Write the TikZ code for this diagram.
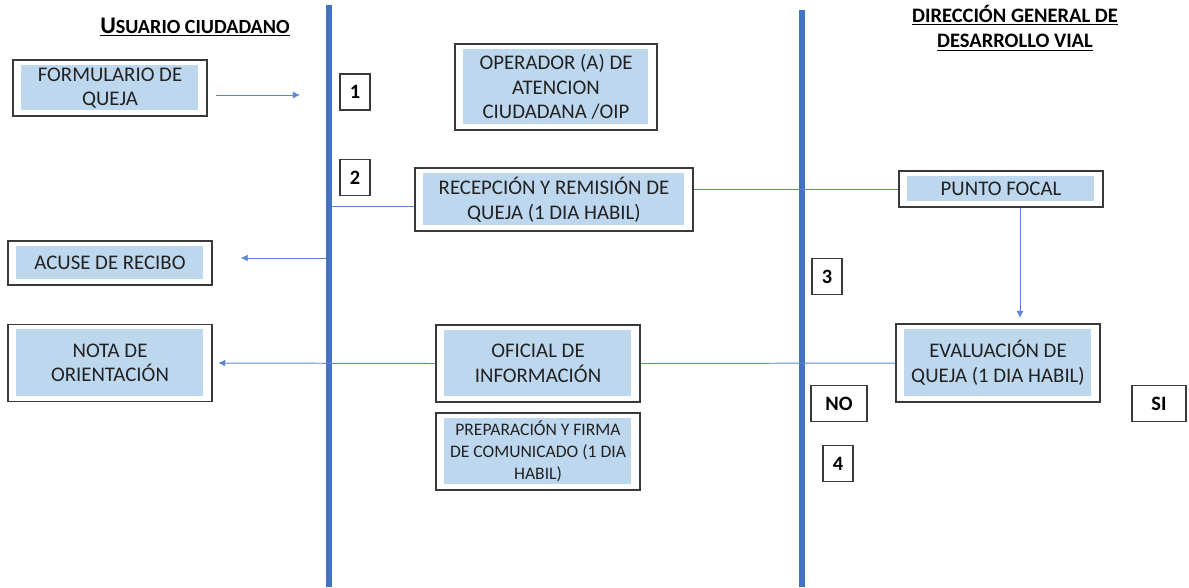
\documentclass[tikz,border=0pt]{standalone}
\usepackage{fontspec}
\setmainfont{Carlito}
\usetikzlibrary{arrows.meta}

\definecolor{laneblue}{HTML}{4472C4}
\definecolor{linkblue}{HTML}{5A87D0}
\definecolor{boxfill}{HTML}{BDD7EE}
\definecolor{boxframe}{HTML}{3A3A3A}
\definecolor{inktext}{HTML}{222222}

\tikzset{
    qbox/.style={draw=boxframe, line width=0.8pt, fill=white, inner sep=0pt, align=center, text=inktext,
        minimum width=5.1cm, minimum height=1.925cm, font=\fontsize{14.8}{17.5}\selectfont,
        path picture={\fill[boxfill] ([shift={(0.2cm,-0.12cm)}]path picture bounding box.north west)
            rectangle ([shift={(-0.22cm,0.15cm)}]path picture bounding box.south east);}},
    numbox/.style={draw=boxframe, line width=0.8pt, fill=white, inner sep=0pt,
        minimum width=0.75cm, minimum height=0.9cm, font=\fontsize{14.5}{16}\selectfont\bfseries},
    lane/.style={laneblue, line width=4.5pt},
    link/.style={linkblue, line width=0.7pt},
    arr/.style={link, -{Latex[length=5pt,width=5pt]}},
    head/.style={font=\fontsize{14.6}{18}\selectfont\bfseries, align=center},
}

\begin{document}
\begin{tikzpicture}[x=0.025cm, y=-0.025cm]
    \useasboundingbox (0,0) rectangle (1189,587);

    % carriles
    \coordinate (laneA top) at (329,5);
    \coordinate (laneA bot) at (329,587);
    \coordinate (laneB top) at (802,10);
    \coordinate (laneB bot) at (802,587);
    \draw[lane] (laneA top) -- (laneA bot);
    \draw[lane] (laneB top) -- (laneB bot);

    % encabezados
    \node[head, font=\fontsize{17}{18}\selectfont\bfseries] (hUser) at (195,27) {\underline{U{\fontsize{14.3}{18}\selectfont SUARIO CIUDADANO}}};
    \node[head] (hDir) at (1015,28) {\underline{DIRECCIÓN GENERAL DE}\\\underline{DESARROLLO VIAL}};

    % cajas
    \node[qbox, minimum width=4.85cm, minimum height=1.4cm] (form) at (110,88) {FORMULARIO DE\\QUEJA};
    \node[qbox, minimum width=5.05cm, minimum height=2.15cm] (oper) at (556,87) {OPERADOR (A) DE\\ATENCION\\CIUDADANA /OIP};
    \node[qbox, minimum width=6.95cm, minimum height=1.575cm] (recep) at (554,199.5) {RECEPCIÓN Y REMISIÓN DE\\QUEJA (1 DIA HABIL)};
    \node[qbox, minimum height=0.9cm] (punto) at (1001,189) {PUNTO FOCAL};
    \node[qbox, minimum height=1.1cm] (acuse) at (110,263) {ACUSE DE RECIBO};
    \node[qbox] (nota) at (110,363) {NOTA DE\\ORIENTACIÓN};
    \node[qbox] (ofi) at (538,363.5) {OFICIAL DE\\INFORMACIÓN};
    \node[qbox, font=\fontsize{12.5}{15.5}\selectfont] (prep) at (538,451.5) {PREPARACIÓN Y FIRMA\\DE COMUNICADO (1 DIA\\HABIL)};
    \node[qbox, minimum height=1.95cm] (eval) at (998,363) {EVALUACIÓN DE\\QUEJA (1 DIA HABIL)};

    % pasos
    \node[numbox] (n1) at (355,92) {1};
    \node[numbox] (n2) at (355,177.5) {2};
    \node[numbox] (n3) at (827,276.5) {3};
    \node[numbox] (n4) at (838,463.5) {4};
    \node[numbox, minimum width=1.4cm] (no) at (839,403.5) {NO};
    \node[numbox, minimum width=1.35cm] (si) at (1159,403.5) {SI};

    % conectores
    \coordinate (formEnd) at (300,95);
    \coordinate (acuseStart) at (326,258);
    \coordinate (recepStart) at (332,206);
    \coordinate (evalEnd) at (1020,318);
    \draw[arr, shorten <=6pt] (form.east |- formEnd) -- (formEnd);
    \draw[arr, shorten >=20pt] (acuseStart) -- (acuseStart -| acuse.east);
    \draw[link] (recepStart) -- (recepStart -| recep.west);
    \draw[link] (recep.east |- punto.west) -- (punto.west);
    \draw[arr] (punto.south -| evalEnd) -- (evalEnd);
    \draw[link] (eval.west) -- (ofi.east);
    \draw[arr, shorten >=4pt] (ofi.west) -- (nota.east);
\end{tikzpicture}
\end{document}
